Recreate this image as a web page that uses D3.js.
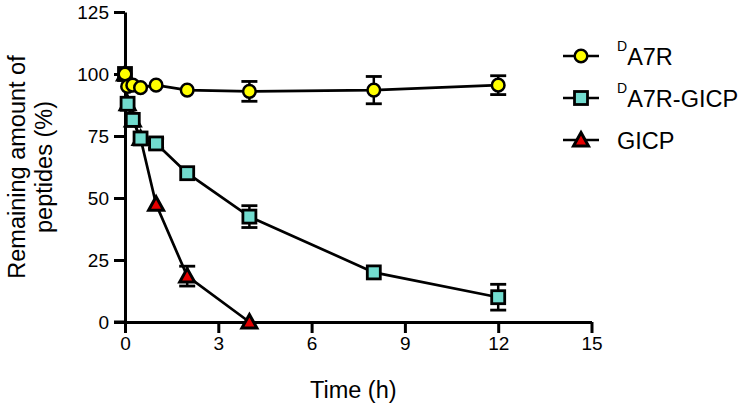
<!DOCTYPE html>
<html>
<head>
<meta charset="utf-8">
<script src="https://cdn.jsdelivr.net/npm/d3@7"></script>
<style>
  html, body { margin: 0; padding: 0; background: #fff; }
  svg { display: block; font-family: "Liberation Sans", Arial, sans-serif; }
</style>
</head>
<body>
<svg id="chart" width="750" height="407"></svg>
<script>
// ---- data ----
const timeA7R = [0, 0.083, 0.25, 0.5, 1, 2, 4, 8, 12];
const valA7R  = [100, 95, 95.5, 94.5, 95.5, 93.5, 93, 93.5, 95.5];
const errA7R  = [0, 0, 0, 0, 0, 0, 4, 5.5, 3.8];

const timeConj = [0, 0.083, 0.25, 0.5, 1, 2, 4, 8, 12];
const valConj  = [100, 88, 81.5, 74, 72, 60, 42.5, 20, 10];
const errConj  = [0, 0, 0, 0, 2, 0, 4.4, 0, 5.2];

const timeGICP = [0, 0.083, 0.25, 0.5, 1, 2, 4];
const valGICP  = [100, 88, 81.5, 74, 47.5, 18.5, 0];
const errGICP  = [0, 0, 0, 0, 0, 4, 0];

const xTicks = [0, 3, 6, 9, 12, 15];
const yTicks = [0, 25, 50, 75, 100, 125];

const legendNames = ["A7R", "A7R-GICP", "GICP"];
const legendSup   = ["D", "D", ""];

// ---- layout ----
const svg = d3.select("#chart");
const x = d3.scaleLinear().domain([0, 15]).range([125, 591.5]);
const y = d3.scaleLinear().domain([0, 125]).range([322, 12]);

const STROKE = "#000";

// axes
const xAxis = svg.append("g").attr("transform", `translate(0,${y(0)})`)
  .call(d3.axisBottom(x).tickValues(xTicks).tickSize(11).tickPadding(4).tickSizeOuter(0));
const yAxis = svg.append("g").attr("transform", `translate(${x(0)},0)`)
  .call(d3.axisLeft(y).tickValues(yTicks).tickSize(11).tickPadding(5).tickSizeOuter(0));
[xAxis, yAxis].forEach(g => {
  g.select(".domain").attr("stroke", STROKE).attr("stroke-width", 3);
  g.selectAll(".tick line").attr("stroke", STROKE).attr("stroke-width", 3);
  g.selectAll(".tick text").attr("fill", "#000").style("font-size", "19px")
    .style("font-family", "'Liberation Sans', Arial, sans-serif");
});
// extend x-axis line to meet left end of y ticks
svg.append("line").attr("x1", x(0) - 11).attr("x2", x(0)).attr("y1", y(0)).attr("y2", y(0))
  .attr("stroke", STROKE).attr("stroke-width", 3);

// axis titles
svg.append("text").attr("x", (x(0) + x(15)) / 2 - 5).attr("y", 398)
  .attr("text-anchor", "middle").style("font-size", "23.5px").text("Time (h)");
const yt = svg.append("text").attr("transform", "translate(25,167) rotate(-90)")
  .attr("text-anchor", "middle").style("font-size", "23.5px");
yt.append("tspan").attr("x", 0).attr("y", 0).text("Remaining amount of");
yt.append("tspan").attr("x", 0).attr("y", 27).text("peptides (%)");

// series
const series = [
  { t: timeGICP, v: valGICP, e: errGICP, shape: "tri", fill: "#e60000" },
  { t: timeConj, v: valConj, e: errConj, shape: "sq", fill: "#72dccf" },
  { t: timeA7R,  v: valA7R,  e: errA7R,  shape: "circ", fill: "#ffff00" }
];

function drawMarker(g, shape, fill, cx, cy) {
  if (shape === "circ") {
    g.append("circle").attr("cx", cx).attr("cy", cy).attr("r", 6.3)
      .attr("fill", fill).attr("stroke", STROKE).attr("stroke-width", 2.5);
  } else if (shape === "sq") {
    g.append("rect").attr("x", cx - 6.5).attr("y", cy - 6.5).attr("width", 13).attr("height", 13)
      .attr("fill", fill).attr("stroke", STROKE).attr("stroke-width", 2.8);
  } else {
    const p = d3.path();
    p.moveTo(cx, cy - 7.5); p.lineTo(cx + 7.5, cy + 6); p.lineTo(cx - 7.5, cy + 6); p.closePath();
    g.append("path").attr("d", p.toString()).attr("fill", fill)
      .attr("stroke", STROKE).attr("stroke-width", 3).attr("stroke-linejoin", "miter");
  }
}

const line = d3.line().x(d => x(d[0])).y(d => y(d[1]));

series.forEach(s => {
  const g = svg.append("g");
  const pts = s.t.map((t, i) => [t, s.v[i], s.e[i]]);
  g.append("path").attr("d", line(pts)).attr("fill", "none")
    .attr("stroke", STROKE).attr("stroke-width", 2.7);
  pts.forEach(p => {
    if (p[2] > 0) {
      const cx = x(p[0]), y1 = y(p[1] + p[2]), y0 = y(p[1] - p[2]);
      g.append("line").attr("x1", cx).attr("x2", cx).attr("y1", y1).attr("y2", y0)
        .attr("stroke", STROKE).attr("stroke-width", 2.5);
      [y1, y0].forEach(yy => g.append("line").attr("x1", cx - 8).attr("x2", cx + 8)
        .attr("y1", yy).attr("y2", yy).attr("stroke", STROKE).attr("stroke-width", 2.8));
    }
  });
  pts.forEach(p => drawMarker(g, s.shape, s.fill, x(p[0]), y(p[1])));
});

// legend
const legRows = [
  { shape: "circ", fill: "#ffff00" },
  { shape: "sq", fill: "#72dccf" },
  { shape: "tri", fill: "#e60000" }
];
legRows.forEach((r, i) => {
  const ly = 56 + i * 42;
  const g = svg.append("g");
  g.append("line").attr("x1", 563).attr("x2", 599).attr("y1", ly).attr("y2", ly)
    .attr("stroke", STROKE).attr("stroke-width", 2.7);
  drawMarker(g, r.shape, r.fill, 581, ly);
  const txt = g.append("text").attr("x", 617).attr("y", ly + 9).style("font-size", "23.5px");
  if (legendSup[i]) {
    txt.append("tspan").style("font-size", "14px").attr("dy", -14).text(legendSup[i]);
    txt.append("tspan").attr("dy", 14).text(legendNames[i]);
  } else {
    txt.text(legendNames[i]);
  }
});
</script>
</body>
</html>
